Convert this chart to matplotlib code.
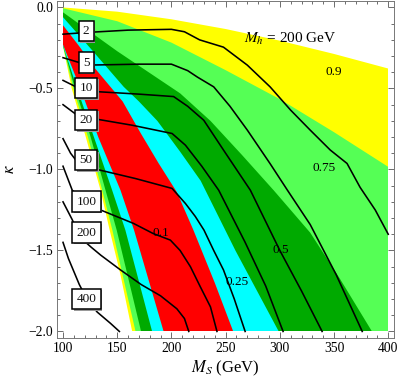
import matplotlib
matplotlib.use("Agg")
import matplotlib.pyplot as plt
import matplotlib.transforms as mtransforms
from matplotlib.patches import Polygon, Rectangle
from matplotlib.ticker import MultipleLocator
import numpy as np

plt.rcParams["font.family"] = ["Liberation Serif", "DejaVu Serif"]
plt.rcParams["mathtext.fontset"] = "stix"

# band boundaries, (M_S, kappa)
# left-hand edges, top -> bottom
edge_white_yellow = [(95, -0.20), (100, -0.24), (108, -0.50), (121, -0.80), (134.6, -1.128),
                     (143, -1.374), (153, -1.65), (163.8, -2.0)]
edge_yellow_lgreen = [(95, -0.21), (100, -0.24), (109.5, -0.50), (123, -0.80), (136.1, -1.128),
                      (145.5, -1.374), (166.9, -2.0)]
edge_lgreen_dgreen = [(95, -0.21), (100, -0.235), (111, -0.50), (125.5, -0.80), (139.2, -1.128),
                      (149.5, -1.374), (172, -2.0)]
edge_dgreen_cyan = [(95, -0.21), (100, -0.235), (113, -0.50), (128.5, -0.80), (145.3, -1.128),
                    (157.5, -1.374), (182.2, -2.0)]
edge_cyan_red = [(95, -0.20), (100, -0.23), (116, -0.50), (132.5, -0.80), (153, -1.128),
                 (165.5, -1.374), (192.8, -2.0)]

# right-hand edges, top -> bottom (or out through the right side)
top_yellow = [(95, 0.0), (100, 0.0), (150, -0.026), (200, -0.073), (250, -0.133), (300, -0.205),
              (350, -0.287), (400, -0.377), (420, -0.41), (420, -2.0)]
top_lgreen = [(95, 0.01), (100, -0.005), (150, -0.085), (200, -0.217), (250, -0.387), (300, -0.566),
              (350, -0.77), (400, -0.984), (420, -1.07), (420, -2.0)]
top_dgreen = [(95, 0.0), (100, -0.03), (150, -0.27), (208, -0.53), (236, -0.70), (265, -0.91),
              (294.5, -1.13), (328, -1.39), (355, -1.67), (385, -2.0)]
top_cyan = [(95, -0.02), (100, -0.06), (125, -0.25), (156, -0.49), (170, -0.58), (187, -0.70),
            (208, -0.89), (227, -1.07), (259, -1.50), (299, -2.0)]
top_red = [(95, -0.07), (100, -0.11), (115, -0.24), (130, -0.38), (145, -0.50), (155, -0.58),
           (172, -0.78), (188, -0.96), (205, -1.14), (220, -1.37), (240, -1.70), (257, -2.0)]

band_colors = ["#ffff00", "#55ff55", "#00aa00", "#00ffff", "#ff0000"]

# black contour lines
line_2 = [(100, -0.165), (120, -0.155), (160, -0.14), (200, -0.135), (212, -0.15), (226, -0.20),
          (248, -0.245), (270, -0.356), (291, -0.49), (310, -0.634), (328, -0.757), (346.5, -0.88),
          (362, -0.963), (374, -1.11), (388, -1.25), (400, -1.40)]
line_5 = [(100, -0.31), (115, -0.34), (130, -0.355), (170, -0.35), (200, -0.35), (215, -0.39),
          (224, -0.43), (239, -0.49), (254, -0.61), (270, -0.757), (291, -0.964), (307, -1.128),
          (328, -1.34), (352, -1.65), (376, -2.0)]
line_10 = [(100, -0.45), (112, -0.49), (132, -0.52), (170, -0.535), (202, -0.55), (215, -0.61),
           (229.8, -0.696), (250, -0.90), (272.8, -1.128), (300, -1.50), (320, -1.75), (339, -2.0)]
line_20 = [(100, -0.60), (112, -0.66), (131.5, -0.69), (163.8, -0.727), (200.6, -0.778),
           (212.9, -0.85), (228, -0.98), (243.6, -1.128), (268, -1.45), (287, -1.72), (303, -2.0)]
line_50 = [(100, -0.81), (107, -0.90), (115, -0.97), (131.5, -1.0), (166.8, -1.056), (200.6, -1.117),
           (212.9, -1.21), (222, -1.29), (230, -1.374), (239, -1.50), (248, -1.62), (258, -1.80),
           (268, -2.0)]
line_100 = [(100, -0.98), (108.5, -1.128), (120, -1.20), (134.6, -1.25), (165, -1.333), (183, -1.395),
            (199, -1.436), (208, -1.50), (217.5, -1.60), (226.7, -1.725), (236, -1.848), (242, -2.0)]
line_200 = [(100, -1.20), (108.5, -1.31), (116, -1.42), (126, -1.48), (135, -1.53), (153, -1.62),
            (172, -1.71), (190, -1.78), (205, -1.86), (212, -1.92), (216, -2.0)]
line_400 = [(100, -1.45), (105, -1.55), (110, -1.63), (115, -1.71), (122, -1.80), (131.5, -1.88),
            (143.8, -1.95), (152, -2.0)]

contour_lines = [line_2, line_5, line_10, line_20, line_50, line_100, line_200, line_400]
contour_names = ["2", "5", "10", "20", "50", "100", "200", "400"]
label_x = [121.4, 121.4, 121.4, 121.4, 121.4, 121.8, 121.8, 121.8]
label_y = [-0.146, -0.34, -0.498, -0.696, -0.943, -1.199, -1.39, -1.80]

band_names = ["0.9", "0.75", "0.5", "0.25", "0.1"]
band_label_x = [349.6, 340.4, 300.5, 260.5, 189.9]
band_label_y = [-0.397, -0.992, -1.498, -1.694, -1.393]

fig = plt.figure(figsize=(3.99, 3.81), dpi=100)
ax = fig.add_axes([0.143, 0.113, 0.845, 0.884])

clip = Rectangle((100, -2.0), 300, 2.0, transform=ax.transData)

lefts = [edge_white_yellow, edge_yellow_lgreen, edge_lgreen_dgreen, edge_dgreen_cyan, edge_cyan_red]
rights = [top_yellow, top_lgreen, top_dgreen, top_cyan, top_red]
for left, right, col in zip(lefts, rights, band_colors):
    pts = list(left) + list(right[::-1])
    poly = Polygon(pts, closed=True, facecolor=col, edgecolor="none", zorder=1)
    ax.add_patch(poly)
    poly.set_clip_path(clip)

for pts in contour_lines:
    arr = np.array(pts)
    ax.plot(arr[:, 0], arr[:, 1], color="black", lw=1.15, zorder=3)

shadow = mtransforms.offset_copy(ax.transData, fig=fig, x=1.5, y=-1.5, units="dots")
for name, lx, ly in zip(contour_names, label_x, label_y):
    ax.text(lx, ly, name, transform=shadow, ha="center", va="center", fontsize=9.5, color="none",
            bbox=dict(boxstyle="square,pad=0.32", fc="#999999", ec="none"), zorder=4)
    ax.text(lx, ly, name, ha="center", va="center", fontsize=9.5, color="#111111",
            bbox=dict(boxstyle="square,pad=0.32", fc="white", ec="black", lw=1.1), zorder=5)

for name, lx, ly in zip(band_names, band_label_x, band_label_y):
    ax.text(lx, ly, name, ha="center", va="center", fontsize=9.5, zorder=6)

ax.text(309.7, -0.195, r"$M_h$ = 200 GeV", ha="center", va="center", fontsize=11, zorder=6)

ax.set_xlim(94.5, 405.5)
ax.set_ylim(-2.04, 0.039)
ax.xaxis.set_major_locator(MultipleLocator(50))
ax.xaxis.set_minor_locator(MultipleLocator(10))
ax.yaxis.set_major_locator(MultipleLocator(0.5))
ax.yaxis.set_minor_locator(MultipleLocator(0.1))
ax.yaxis.set_major_formatter(plt.FuncFormatter(lambda v, p: f"{v:.1f}".replace("-", "\u2212")))
ax.tick_params(which="both", direction="in", top=True, right=True, colors="#555555",
               labelcolor="black", labelsize=9.8, width=0.6)
ax.tick_params(which="major", length=4, pad=3)
ax.tick_params(which="minor", length=2)
for sp in ax.spines.values():
    sp.set_color("#777777")
    sp.set_linewidth(0.7)

ax.set_xlabel(r"$M_S$ (GeV)", fontsize=12)
ax.set_ylabel(r"$\kappa$", fontsize=12)
ax.xaxis.set_label_coords(0.5, -0.063)
ax.yaxis.set_label_coords(-0.115, 0.5)

fig.savefig("out.png", dpi=100)
